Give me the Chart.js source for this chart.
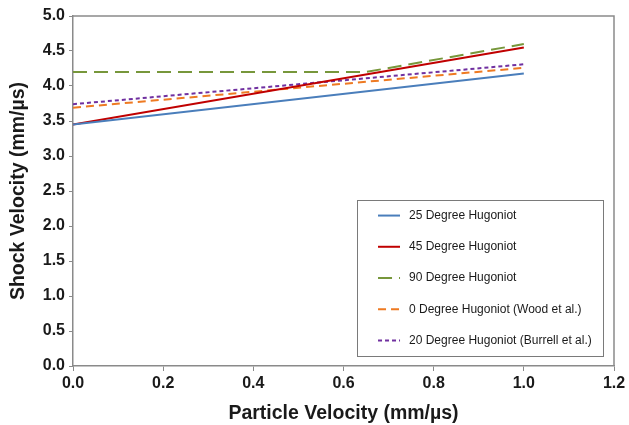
<!DOCTYPE html>
<html>
<head>
<meta charset="utf-8">
<script src="https://cdn.jsdelivr.net/npm/chart.js@4"></script>
<style>
  html, body { margin: 0; padding: 0; background: #fff; }
  #wrap { width: 629px; height: 425px; position: relative; }
</style>
</head>
<body>
<div id="wrap"><canvas id="c" width="629" height="425"></canvas></div>
<script>
// ---- data ----
const seriesNames = [
  "25 Degree Hugoniot",
  "45 Degree Hugoniot",
  "90 Degree Hugoniot",
  "0 Degree Hugoniot (Wood et al.)",
  "20 Degree Hugoniot (Burrell et al.)"
];
const particleVel = [0.0, 1.0];
const hug25 = [3.45, 4.18];
const hug45 = [3.45, 4.55];
const hug90X = [0.0, 0.65, 1.0];
const hug90 = [4.20, 4.20, 4.60];
const wood0 = [3.69, 4.26];
const burrell20 = [3.74, 4.31];
const xTicks = [0.0, 0.2, 0.4, 0.6, 0.8, 1.0, 1.2];
const yTicks = [0.0, 0.5, 1.0, 1.5, 2.0, 2.5, 3.0, 3.5, 4.0, 4.5, 5.0];

const pts = (xs, ys) => xs.map((x, i) => ({x: x, y: ys[i]}));

const styles = [
  {color: '#4A7EBB', dash: []},
  {color: '#C00000', dash: []},
  {color: '#77973B', dash: [14, 7]},
  {color: '#EE7A22', dash: [8, 5]},
  {color: '#7030A0', dash: [4, 3]}
];
const seriesData = [
  pts(particleVel, hug25),
  pts(particleVel, hug45),
  pts(hug90X, hug90),
  pts(particleVel, wood0),
  pts(particleVel, burrell20)
];

const datasets = seriesNames.map((name, i) => ({
  label: name,
  data: seriesData[i],
  showLine: true,
  borderColor: styles[i].color,
  backgroundColor: styles[i].color,
  borderDash: styles[i].dash,
  borderWidth: 2,
  pointRadius: 0,
  fill: false,
  tension: 0
}));

const axisColor = '#8a8a8a';
const fontFam = "'Liberation Sans', Arial, sans-serif";

const framePlugin = {
  id: 'frame',
  afterDatasetsDraw(chart) {
    const {ctx, chartArea: a} = chart;
    ctx.save();
    ctx.strokeStyle = axisColor;
    ctx.lineWidth = 1.5;
    ctx.beginPath();
    ctx.moveTo(a.left, a.top);
    ctx.lineTo(a.right, a.top);
    ctx.lineTo(a.right, a.bottom);
    ctx.stroke();
    ctx.restore();
  }
};

const legendPlugin = {
  id: 'boxLegend',
  afterDraw(chart) {
    const {ctx, chartArea: a} = chart;
    const W = a.right - a.left, H = a.bottom - a.top;
    const bx = a.left + W * 0.525, by = a.top + H * 0.527;
    const bw = W * 0.455, bh = H * 0.446;
    ctx.save();
    ctx.fillStyle = '#fff';
    ctx.fillRect(bx, by, bw, bh);
    ctx.strokeStyle = '#7a7a7a';
    ctx.lineWidth = 1;
    ctx.strokeRect(Math.round(bx) + 0.5, Math.round(by) + 0.5, Math.round(bw), Math.round(bh));
    const n = chart.data.datasets.length;
    const step = bh / n;
    ctx.font = '12px ' + fontFam;
    ctx.textBaseline = 'middle';
    chart.data.datasets.forEach((ds, i) => {
      const yy = by + step * (i + 0.5) - 0.5;
      ctx.strokeStyle = ds.borderColor;
      ctx.lineWidth = 2;
      ctx.setLineDash(ds.borderDash || []);
      ctx.beginPath();
      ctx.moveTo(bx + 21, yy);
      ctx.lineTo(bx + 43, yy);
      ctx.stroke();
      ctx.setLineDash([]);
      ctx.fillStyle = '#1a1a1a';
      ctx.fillText(ds.label, bx + 52, yy);
    });
    ctx.restore();
  }
};

new Chart(document.getElementById('c'), {
  type: 'scatter',
  data: { datasets: datasets },
  options: {
    responsive: false,
    animation: false,
    devicePixelRatio: 1,
    layout: { padding: { top: 16, right: 15, left: 0, bottom: 0 } },
    plugins: {
      legend: { display: false },
      tooltip: { enabled: false }
    },
    scales: {
      x: {
        type: 'linear',
        min: 0, max: 1.2,
        afterBuildTicks(s) { s.ticks = xTicks.map(v => ({value: v})); },
        afterFit(s) { s.height = 59; },
        ticks: {
          callback: v => Number(v).toFixed(1),
          font: { family: fontFam, size: 16, weight: 'bold' },
          color: '#1a1a1a',
          padding: 3,
          maxRotation: 0
        },
        grid: { drawOnChartArea: false, color: axisColor, tickLength: 5, lineWidth: 1 },
        border: { color: axisColor, width: 1.5 },
        title: {
          display: true,
          text: 'Particle Velocity (mm/µs)',
          font: { family: fontFam, size: 19.5, weight: 'bold' },
          color: '#1a1a1a',
          padding: { top: 9, bottom: 0 }
        }
      },
      y: {
        type: 'linear',
        min: 0, max: 5,
        afterBuildTicks(s) { s.ticks = yTicks.map(v => ({value: v})); },
        afterFit(s) { s.width = 73; },
        ticks: {
          callback: v => Number(v).toFixed(1),
          font: { family: fontFam, size: 16, weight: 'bold' },
          color: '#1a1a1a',
          padding: 4
        },
        grid: { drawOnChartArea: false, color: axisColor, tickLength: 4, lineWidth: 1 },
        border: { color: axisColor, width: 1.5 },
        title: {
          display: true,
          text: 'Shock Velocity (mm/µs)',
          font: { family: fontFam, size: 19.5, weight: 'bold' },
          color: '#1a1a1a',
          padding: { top: 7, bottom: 4 }
        }
      }
    }
  },
  plugins: [framePlugin, legendPlugin]
});
</script>
</body>
</html>
